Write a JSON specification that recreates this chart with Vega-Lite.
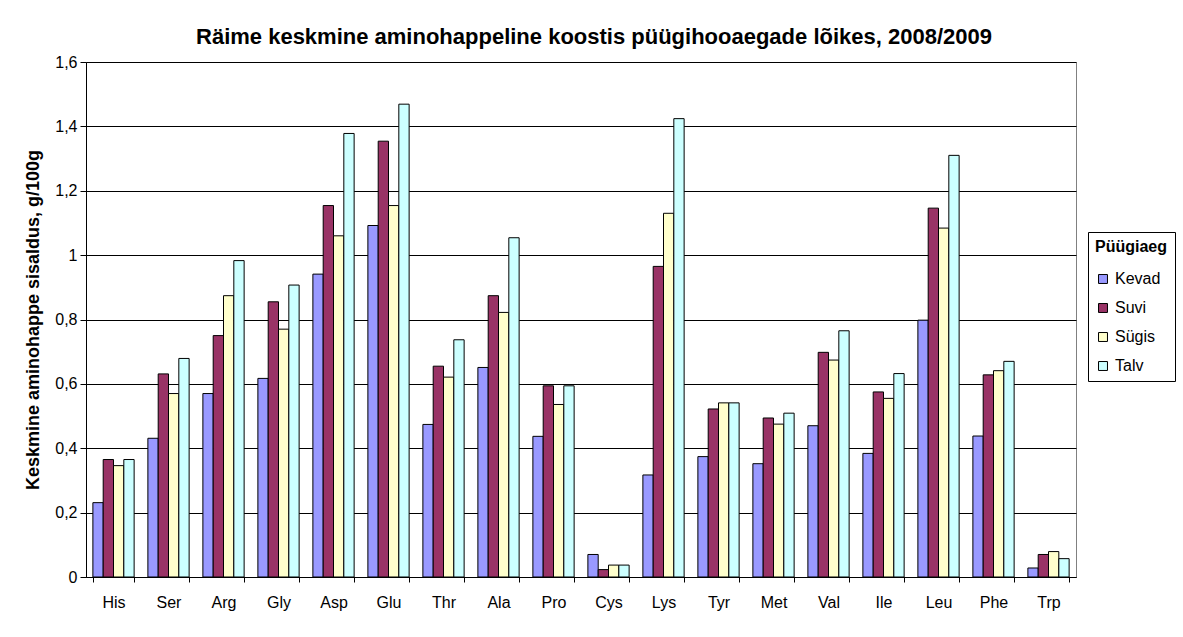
{
  "$schema": "https://vega.github.io/schema/vega-lite/v6.json",
  "width": 990,
  "height": 515,
  "autosize": "none",
  "padding": {"left": 86, "top": 62, "right": 107, "bottom": 60},
  "background": "white",
  "title": {
    "text": "Räime keskmine aminohappeline koostis püügihooaegade lõikes, 2008/2009",
    "font": "Liberation Sans",
    "fontSize": 22,
    "fontWeight": "bold",
    "color": "black",
    "offset": 5,
    "dx": 13
  },
  "data": {
    "values": [
      {"aa": "His", "season": "Kevad", "value": 0.231}, {"aa": "His", "season": "Suvi", "value": 0.365}, {"aa": "His", "season": "Sügis", "value": 0.346}, {"aa": "His", "season": "Talv", "value": 0.365},
      {"aa": "Ser", "season": "Kevad", "value": 0.431}, {"aa": "Ser", "season": "Suvi", "value": 0.631}, {"aa": "Ser", "season": "Sügis", "value": 0.570}, {"aa": "Ser", "season": "Talv", "value": 0.679},
      {"aa": "Arg", "season": "Kevad", "value": 0.570}, {"aa": "Arg", "season": "Suvi", "value": 0.750}, {"aa": "Arg", "season": "Sügis", "value": 0.874}, {"aa": "Arg", "season": "Talv", "value": 0.983},
      {"aa": "Gly", "season": "Kevad", "value": 0.617}, {"aa": "Gly", "season": "Suvi", "value": 0.855}, {"aa": "Gly", "season": "Sügis", "value": 0.770}, {"aa": "Gly", "season": "Talv", "value": 0.907},
      {"aa": "Asp", "season": "Kevad", "value": 0.941}, {"aa": "Asp", "season": "Suvi", "value": 1.154}, {"aa": "Asp", "season": "Sügis", "value": 1.060}, {"aa": "Asp", "season": "Talv", "value": 1.378},
      {"aa": "Glu", "season": "Kevad", "value": 1.092}, {"aa": "Glu", "season": "Suvi", "value": 1.354}, {"aa": "Glu", "season": "Sügis", "value": 1.154}, {"aa": "Glu", "season": "Talv", "value": 1.469},
      {"aa": "Thr", "season": "Kevad", "value": 0.474}, {"aa": "Thr", "season": "Suvi", "value": 0.655}, {"aa": "Thr", "season": "Sügis", "value": 0.621}, {"aa": "Thr", "season": "Talv", "value": 0.737},
      {"aa": "Ala", "season": "Kevad", "value": 0.651}, {"aa": "Ala", "season": "Suvi", "value": 0.874}, {"aa": "Ala", "season": "Sügis", "value": 0.822}, {"aa": "Ala", "season": "Talv", "value": 1.054},
      {"aa": "Pro", "season": "Kevad", "value": 0.437}, {"aa": "Pro", "season": "Suvi", "value": 0.594}, {"aa": "Pro", "season": "Sügis", "value": 0.536}, {"aa": "Pro", "season": "Talv", "value": 0.594},
      {"aa": "Cys", "season": "Kevad", "value": 0.070}, {"aa": "Cys", "season": "Suvi", "value": 0.023}, {"aa": "Cys", "season": "Sügis", "value": 0.037}, {"aa": "Cys", "season": "Talv", "value": 0.037},
      {"aa": "Lys", "season": "Kevad", "value": 0.317}, {"aa": "Lys", "season": "Suvi", "value": 0.965}, {"aa": "Lys", "season": "Sügis", "value": 1.130}, {"aa": "Lys", "season": "Talv", "value": 1.424},
      {"aa": "Tyr", "season": "Kevad", "value": 0.374}, {"aa": "Tyr", "season": "Suvi", "value": 0.522}, {"aa": "Tyr", "season": "Sügis", "value": 0.541}, {"aa": "Tyr", "season": "Talv", "value": 0.541},
      {"aa": "Met", "season": "Kevad", "value": 0.352}, {"aa": "Met", "season": "Suvi", "value": 0.494}, {"aa": "Met", "season": "Sügis", "value": 0.475}, {"aa": "Met", "season": "Talv", "value": 0.509},
      {"aa": "Val", "season": "Kevad", "value": 0.470}, {"aa": "Val", "season": "Suvi", "value": 0.698}, {"aa": "Val", "season": "Sügis", "value": 0.674}, {"aa": "Val", "season": "Talv", "value": 0.765},
      {"aa": "Ile", "season": "Kevad", "value": 0.384}, {"aa": "Ile", "season": "Suvi", "value": 0.575}, {"aa": "Ile", "season": "Sügis", "value": 0.555}, {"aa": "Ile", "season": "Talv", "value": 0.632},
      {"aa": "Leu", "season": "Kevad", "value": 0.798}, {"aa": "Leu", "season": "Suvi", "value": 1.146}, {"aa": "Leu", "season": "Sügis", "value": 1.084}, {"aa": "Leu", "season": "Talv", "value": 1.310},
      {"aa": "Phe", "season": "Kevad", "value": 0.438}, {"aa": "Phe", "season": "Suvi", "value": 0.628}, {"aa": "Phe", "season": "Sügis", "value": 0.641}, {"aa": "Phe", "season": "Talv", "value": 0.670},
      {"aa": "Trp", "season": "Kevad", "value": 0.028}, {"aa": "Trp", "season": "Suvi", "value": 0.070}, {"aa": "Trp", "season": "Sügis", "value": 0.079}, {"aa": "Trp", "season": "Talv", "value": 0.057}
    ]
  },
  "mark": {"type": "bar", "stroke": "black", "strokeWidth": 1},
  "encoding": {
    "x": {
      "field": "aa",
      "type": "nominal",
      "sort": null,
      "scale": {"paddingInner": 0.25, "paddingOuter": 0.125},
      "axis": {
        "title": null,
        "labelAngle": 0,
        "labelFont": "Liberation Sans",
        "labelFontSize": 16,
        "labelColor": "black",
        "labelPadding": 12,
        "tickBand": "extent",
        "tickColor": "black",
        "tickSize": 5,
        "domainColor": "black",
        "grid": false
      }
    },
    "xOffset": {
      "field": "season",
      "type": "nominal",
      "sort": ["Kevad", "Suvi", "Sügis", "Talv"],
      "scale": {"paddingInner": 0}
    },
    "y": {
      "field": "value",
      "type": "quantitative",
      "scale": {"domain": [0, 1.6], "nice": false},
      "axis": {
        "title": "Keskmine aminohappe sisaldus, g/100g",
        "titleFont": "Liberation Sans",
        "titleFontSize": 18,
        "titleFontWeight": "bold",
        "titleColor": "black",
        "titlePadding": 12,
        "values": [0, 0.2, 0.4, 0.6, 0.8, 1, 1.2, 1.4, 1.6],
        "labelExpr": "replace(format(datum.value, '.1~f'), '.', ',')",
        "labelFont": "Liberation Sans",
        "labelFontSize": 16,
        "labelColor": "black",
        "labelPadding": 3,
        "tickColor": "black",
        "tickSize": 6,
        "domainColor": "black",
        "grid": true,
        "gridColor": "black",
        "gridWidth": 1
      }
    },
    "color": {
      "field": "season",
      "type": "nominal",
      "scale": {
        "domain": ["Kevad", "Suvi", "Sügis", "Talv"],
        "range": ["#9999FF", "#993366", "#FFFFCC", "#CCFFFF"]
      },
      "legend": {
        "title": "Püügiaeg",
        "orient": "none",
        "legendX": 1002,
        "legendY": 170,
        "titleFont": "Liberation Sans",
        "titleFontSize": 16,
        "titleFontWeight": "bold",
        "titleColor": "black",
        "titlePadding": 16,
        "labelFont": "Liberation Sans",
        "labelFontSize": 16,
        "labelColor": "black",
        "symbolType": "square",
        "symbolSize": 80,
        "symbolStrokeColor": "black",
        "symbolStrokeWidth": 1,
        "rowPadding": 13,
        "padding": 7,
        "strokeColor": "black"
      }
    }
  },
  "config": {
    "view": {"stroke": "#808080", "strokeWidth": 1}
  }
}
